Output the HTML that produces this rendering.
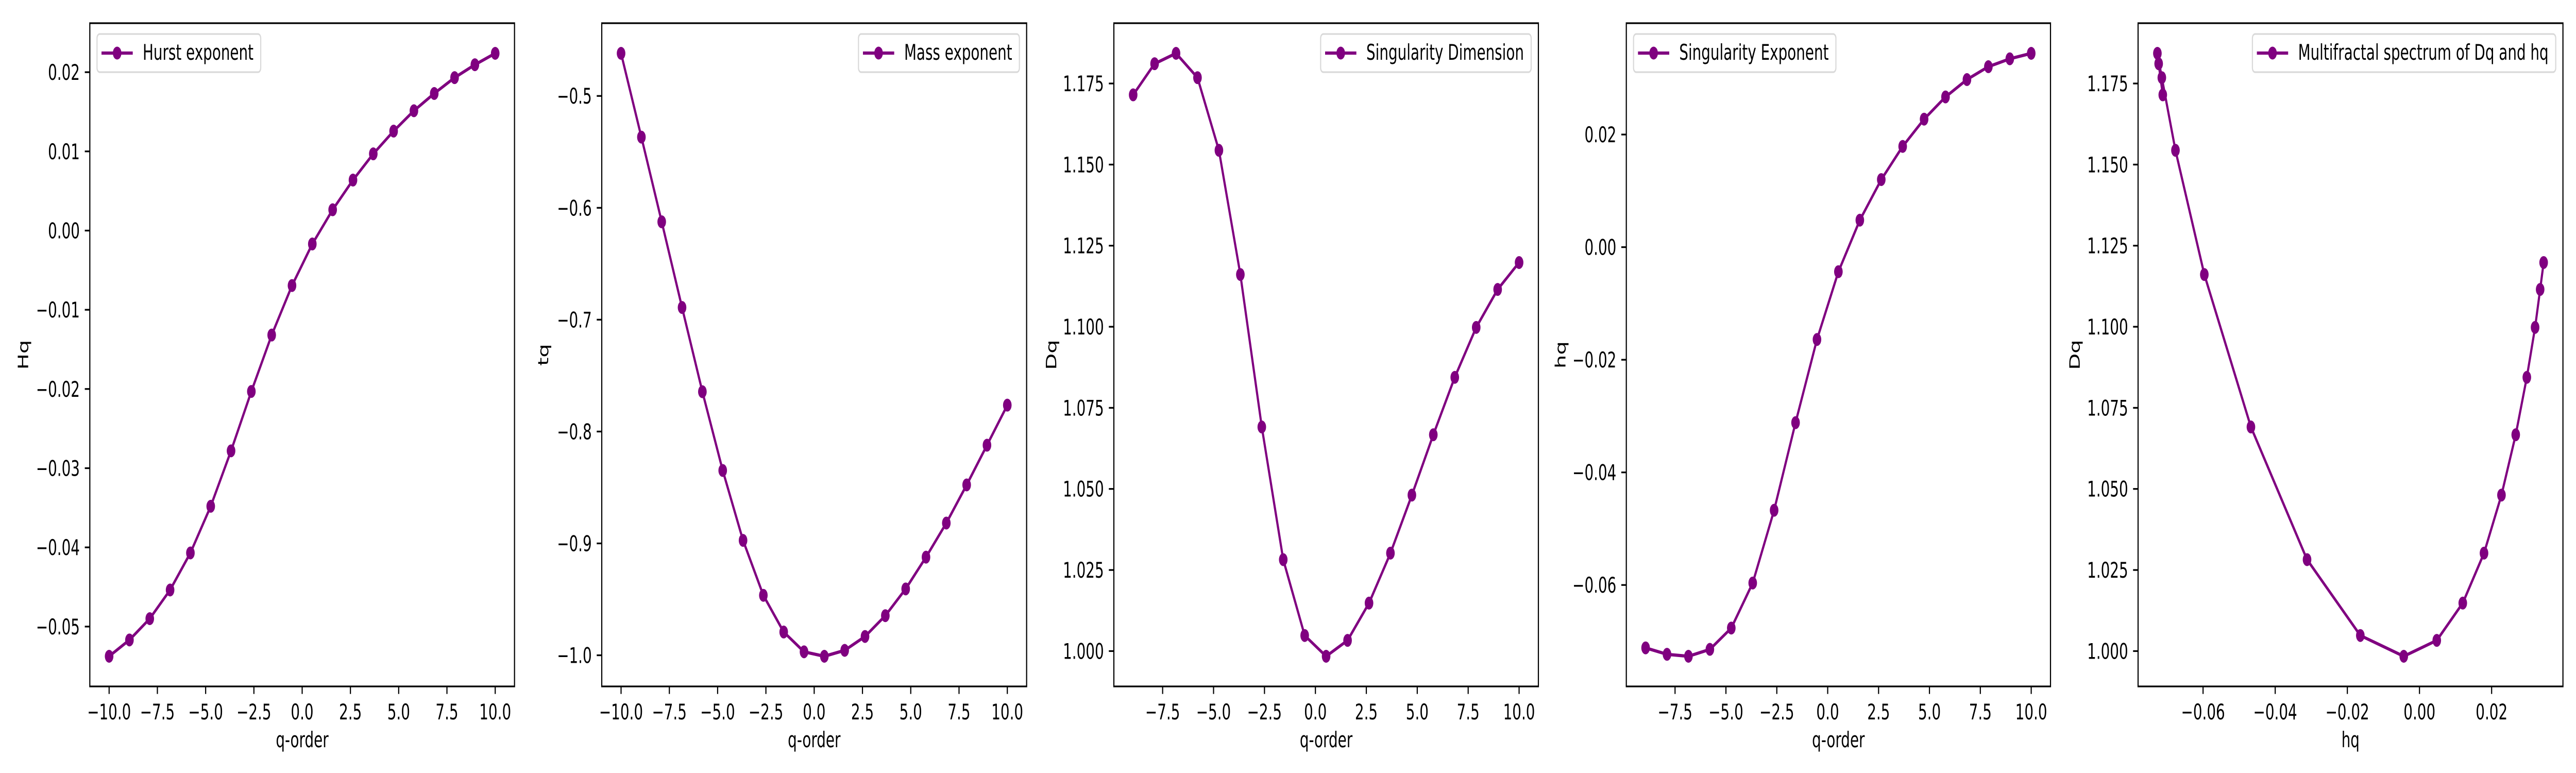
<!DOCTYPE html>
<html><head><meta charset="utf-8"><style>
html,body{margin:0;padding:0;background:#fff;overflow:hidden;width:100%;height:100%;}
svg{display:block;width:100vw;height:100vh;}
text{font-family:"DejaVu Sans","Liberation Sans",sans-serif;fill:#000;}
</style></head><body>
<svg id="fig" viewBox="0 0 7500 1500" preserveAspectRatio="none" xmlns="http://www.w3.org/2000/svg">
<rect x="0" y="0" width="7500" height="1500" fill="#fff"/>
</svg>
<script>
// ---- data ----
const qOrder = [-10,-8.947,-7.895,-6.842,-5.789,-4.737,-3.684,-2.632,-1.579,-0.526,0.526,1.579,2.632,3.684,4.737,5.789,6.842,7.895,8.947,10];
const qOrder19 = [-8.947,-7.895,-6.842,-5.789,-4.737,-3.684,-2.632,-1.579,-0.526,0.526,1.579,2.632,3.684,4.737,5.789,6.842,7.895,8.947,10];
const hurstValues = [-0.05375,-0.05169,-0.0490,-0.04538,-0.0407,-0.03481,-0.02781,-0.02031,-0.01319,-0.00694,-0.00169,0.00263,0.00638,0.00969,0.01256,0.01513,0.01731,0.01931,0.02094,0.02238];
const massValues = [-0.4619,-0.5368,-0.6125,-0.6891,-0.7644,-0.8348,-0.8973,-0.9464,-0.9792,-0.9969,-1.0009,-0.9956,-0.9832,-0.9646,-0.9407,-0.9123,-0.8818,-0.8477,-0.8122,-0.7764];
const dqValues = [1.1715,1.1811,1.1843,1.1768,1.1544,1.1161,1.0691,1.0282,1.0048,0.9984,1.0033,1.0148,1.0302,1.0481,1.0667,1.0844,1.0998,1.1115,1.1198];
const hqValues = [-0.07117,-0.07231,-0.07266,-0.07143,-0.06765,-0.05965,-0.04673,-0.03117,-0.01640,-0.00436,0.00479,0.01200,0.01789,0.02273,0.02668,0.02976,0.03205,0.03345,0.03442];
const spectrumH = hqValues;
const spectrumD = dqValues;
const ticksQ = [-10,-7.5,-5,-2.5,0,2.5,5,7.5,10];
const ticksQLabels = ["−10.0","−7.5","−5.0","−2.5","0.0","2.5","5.0","7.5","10.0"];
const ticksQ2 = [-7.5,-5,-2.5,0,2.5,5,7.5,10];
const ticksQ2Labels = ["−7.5","−5.0","−2.5","0.0","2.5","5.0","7.5","10.0"];
const ticksHurst = [-0.05,-0.04,-0.03,-0.02,-0.01,0,0.01,0.02];
const ticksHurstLabels = ["−0.05","−0.04","−0.03","−0.02","−0.01","0.00","0.01","0.02"];
const ticksMass = [-1.0,-0.9,-0.8,-0.7,-0.6,-0.5];
const ticksMassLabels = ["−1.0","−0.9","−0.8","−0.7","−0.6","−0.5"];
const ticksDq = [1.0,1.025,1.05,1.075,1.1,1.125,1.15,1.175];
const ticksDqLabels = ["1.000","1.025","1.050","1.075","1.100","1.125","1.150","1.175"];
const ticksHq = [-0.06,-0.04,-0.02,0,0.02];
const ticksHqLabels = ["−0.06","−0.04","−0.02","0.00","0.02"];

const NS="http://www.w3.org/2000/svg";
const svg=document.getElementById('fig');
const COLOR="#800080";
const TOP=45,BOT=1332,FS=41.7;
function mk(tag,attrs,parent){const e=document.createElementNS(NS,tag);for(const k in attrs)e.setAttribute(k,attrs[k]);(parent||svg).appendChild(e);return e;}
function lim(a){const mn=Math.min(...a),mx=Math.max(...a),p=(mx-mn)*0.05;return [mn-p,mx+p];}

function panel(id,L,R,xs,ys,xt,xtl,yt,ytl,xlabel,ylabel,ylx,legendText,legendRight){
  const g=mk('g',{});
  
  
  const [x0,x1]=lim(xs),[y0,y1]=lim(ys);
  const X=v=>L+(v-x0)/(x1-x0)*(R-L);
  const Y=v=>BOT-(v-y0)/(y1-y0)*(BOT-TOP);
  xt.forEach((v,i)=>{
    const t=mk('line',{x1:X(v),x2:X(v),y1:BOT,y2:BOT+14.6,stroke:'#000','stroke-width':3.3},g);
    
    
    const tx=mk('text',{x:X(v),y:1396,'font-size':FS,'text-anchor':'middle'},g);
    tx.textContent=xtl[i];
    
    
  });
  yt.forEach((v,i)=>{
    const t=mk('line',{x1:L-14.6,x2:L,y1:Y(v),y2:Y(v),stroke:'#000','stroke-width':3.3},g);
    
    
    const tx=mk('text',{x:L-29,y:Y(v)+15,'font-size':FS,'text-anchor':'end'},g);
    tx.textContent=ytl[i];
    
    
  });
  const xl=mk('text',{x:(L+R)/2,y:1450,'font-size':FS,'text-anchor':'middle'},g);
  xl.textContent=xlabel;
  
  
  const cy=(TOP+BOT)/2;
  const yl=mk('text',{x:ylx,y:cy,'font-size':FS,'text-anchor':'middle',transform:`rotate(-90 ${ylx} ${cy})`},g);
  yl.textContent=ylabel;
  
  
  const pts=xs.map((v,i)=>X(v).toFixed(1)+','+Y(ys[i]).toFixed(1)).join(' ');
  const pl=mk('polyline',{points:pts,fill:'none',stroke:COLOR,'stroke-width':6.25,'stroke-linejoin':'round','stroke-linecap':'square'},g);
  
  
  xs.forEach((v,i)=>{
    const c=mk('circle',{cx:X(v),cy:Y(ys[i]),r:12.5,fill:COLOR},g);
    
    
  });
  const fr=mk('rect',{x:L,y:TOP,width:R-L,height:BOT-TOP,fill:'none',stroke:'#000','stroke-width':3.3},g);
  
  
  const lg=mk('g',{},g);
  
  
  const box=mk('rect',{y:66,height:74,rx:8,fill:'#fff','fill-opacity':0.8,stroke:'#d9d9d9','stroke-width':3.3},lg);
  const lt=mk('text',{y:116,'font-size':FS},lg);
  lt.textContent=legendText;
  
  
  const tw=lt.getComputedTextLength();
  const bw=133+tw+21;
  const bx=legendRight?R-21-bw:L+21;
  box.setAttribute('x',bx);box.setAttribute('width',bw);
  lt.setAttribute('x',bx+133);
  const ll=mk('line',{x1:bx+13,x2:bx+104,y1:103,y2:103,stroke:COLOR,'stroke-width':6.25},lg);
  
  
  const lc=mk('circle',{cx:bx+58.5,cy:103,r:12.5,fill:COLOR},lg);
  
  
}
panel('hurst',261.5,1498,qOrder,hurstValues,ticksQ,ticksQLabels,ticksHurst,ticksHurstLabels,'q-order','Hq',82,'Hurst exponent',false);
panel('mass',1752,2989,qOrder,massValues,ticksQ,ticksQLabels,ticksMass,ticksMassLabels,'q-order','tq',1596,'Mass exponent',true);
panel('dq',3243,4479,qOrder19,dqValues,ticksQ2,ticksQ2Labels,ticksDq,ticksDqLabels,'q-order','Dq',3075,'Singularity Dimension',true);
panel('hq',4735,5970,qOrder19,hqValues,ticksQ2,ticksQ2Labels,ticksHq,ticksHqLabels,'q-order','hq',4558,'Singularity Exponent',false);
panel('spectrum',6225,7462,spectrumH,spectrumD,ticksHq,ticksHqLabels,ticksDq,ticksDqLabels,'hq','Dq',6055,'Multifractal spectrum of Dq and hq',true);
</script>
</body></html>
